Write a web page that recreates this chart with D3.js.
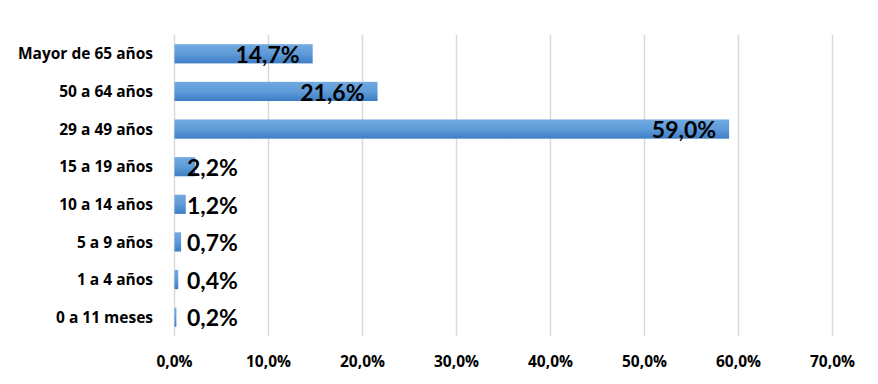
<!DOCTYPE html>
<html><head><meta charset="utf-8">
<script src="https://cdn.jsdelivr.net/npm/d3@7"></script>
<style>body{margin:0;background:#fff}svg{display:block}</style>
</head><body><svg id="c" width="878" height="384"></svg>
<script>
const categories = ["Mayor de 65 años","50 a 64 años","29 a 49 años","15 a 19 años","10 a 14 años","5 a 9 años","1 a 4 años","0 a 11 meses"];
const values = [14.7, 21.6, 59.0, 2.2, 1.2, 0.7, 0.4, 0.2];
const ticks = [0,10,20,30,40,50,60,70];
const fmt = v => v.toFixed(1).replace(".", ",") + "%";

const svg = d3.select("#c");
const x = d3.scaleLinear().domain([0,70]).range([174.5, 832.5]);
const y = d3.scaleBand().domain(categories).range([35, 336]).paddingInner(0.49).paddingOuter(0.245);

const defs = svg.append("defs");
const g = defs.append("linearGradient").attr("id","bg").attr("x1",0).attr("y1",0).attr("x2",0).attr("y2",1);
g.append("stop").attr("offset","0%").attr("stop-color","#72a9e0");
g.append("stop").attr("offset","50%").attr("stop-color","#5e9bd8");
g.append("stop").attr("offset","100%").attr("stop-color","#3e7dc6");

svg.append("g").selectAll("line").data(ticks).join("line")
  .attr("x1", d=>x(d)).attr("x2", d=>x(d)).attr("y1", 35).attr("y2", 336)
  .attr("stroke", "#d9d9d9").attr("stroke-width", 1.5);

svg.append("g").selectAll("text").data(ticks).join("text")
  .attr("x", d=>x(d)).attr("y", 366.5).attr("text-anchor","middle")
  .attr("font-family","'Open Sans', sans-serif").attr("font-weight","bold").attr("font-size",15.5)
  .attr("fill","#000").text(d=>fmt(d));

svg.append("g").selectAll("text").data(categories).join("text")
  .attr("x", 153).attr("y", d=>y(d)+y.bandwidth()/2).attr("dy","0.36em").attr("text-anchor","end")
  .attr("font-family","'Open Sans', sans-serif").attr("font-weight","bold").attr("font-size",15.5)
  .attr("fill","#000").text(d=>d);

const data = categories.map((c,i)=>({c, v: values[i]}));

svg.append("g").selectAll("rect").data(data).join("rect")
  .attr("x", x(0)).attr("y", d=>y(d.c)).attr("width", d=>x(d.v)-x(0)).attr("height", y.bandwidth())
  .attr("fill","url(#bg)");

const lbl = svg.append("g").selectAll("text").data(data).join("text")
  .attr("y", d=>y(d.c)+y.bandwidth()/2).attr("dy","0.4em")
  .attr("font-family","Lato, 'Open Sans', sans-serif").attr("font-weight","bold").attr("font-size",23)
  .attr("fill","#000").text(d=>fmt(d.v));
lbl.each(function(d){
  const w = this.getComputedTextLength();
  const bw = x(d.v)-x(0);
  const t = d3.select(this);
  if (w + 13 < bw) t.attr("x", x(d.v)-13).attr("text-anchor","end");
  else t.attr("x", x(0)+12.5).attr("text-anchor","start");
});
</script></body></html>
